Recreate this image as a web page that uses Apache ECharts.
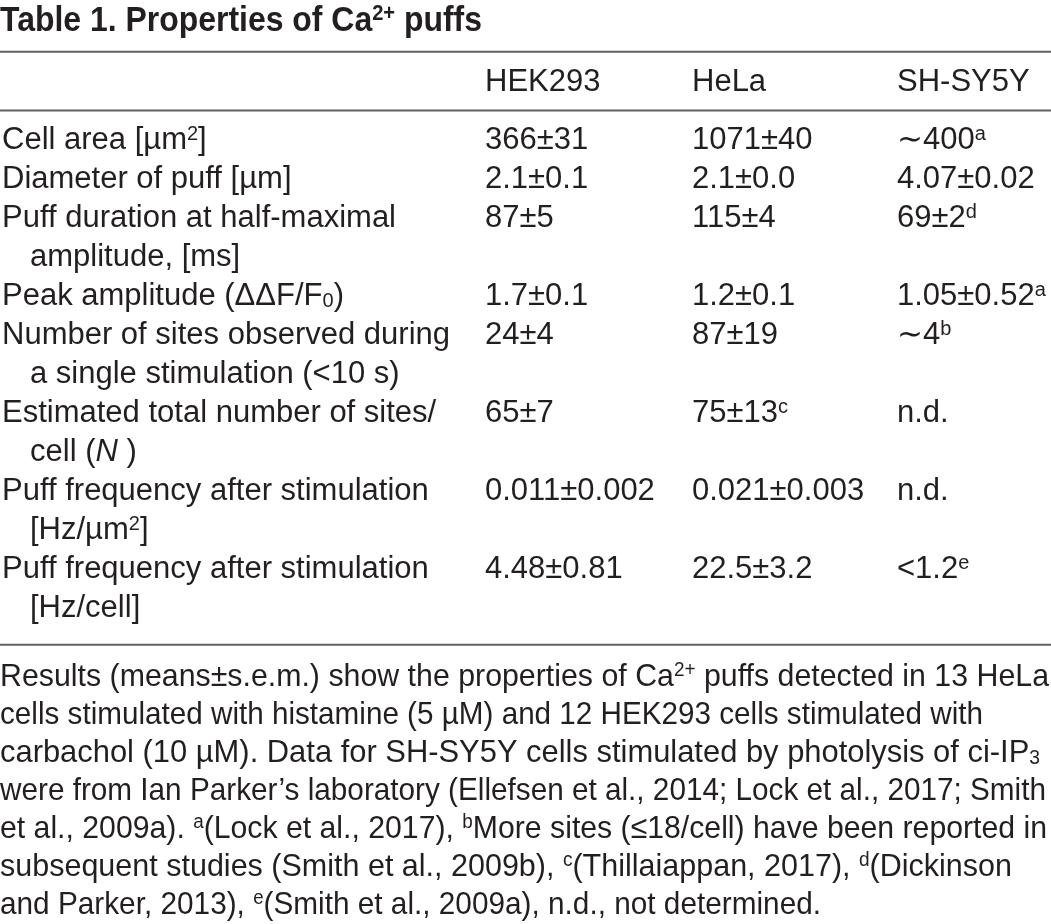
<!DOCTYPE html>
<html>
<head>
<meta charset="utf-8">
<script src="https://cdn.jsdelivr.net/npm/echarts@6/dist/echarts.min.js"></script>
<style>
html,body{margin:0;padding:0;background:#fff;}
#c{width:1051px;height:924px;}
</style>
</head>
<body>
<div id="c"></div>
<script>
// ---------- content ----------
const titleText = 'Table 1. Properties of Ca{tsup|2+} puffs';
const columnHeads = ['HEK293', 'HeLa', 'SH-SY5Y'];
const propertyLines = [
  ['Cell area [µm{sup|2}]'],
  ['Diameter of puff [µm]'],
  ['Puff duration at half-maximal', 'amplitude, [ms]'],
  ['Peak amplitude (ΔΔF/F{sub|0})'],
  ['Number of sites observed during', 'a single stimulation (<10 s)'],
  ['Estimated total number of sites/', 'cell ({it|N}{it| })'],
  ['Puff frequency after stimulation', '[Hz/µm{sup|2}]'],
  ['Puff frequency after stimulation', '[Hz/cell]']
];
const hek293 = ['366±31', '2.1±0.1', '87±5', '1.7±0.1', '24±4', '65±7', '0.011±0.002', '4.48±0.81'];
const hela = ['1071±40', '2.1±0.0', '115±4', '1.2±0.1', '87±19', '75±13{sup|c}', '0.021±0.003', '22.5±3.2'];
const shsy5y = ['∼400{sup|a}', '4.07±0.02', '69±2{sup|d}', '1.05±0.52{sup|a}', '∼4{sup|b}', 'n.d.', 'n.d.', '<1.2{sup|e}'];
const footnoteLines = [
  'Results (means±s.e.m.) show the properties of Ca{sup|2+} puffs detected in 13 HeLa',
  'cells stimulated with histamine (5 µM) and 12 HEK293 cells stimulated with',
  'carbachol (10 µM). Data for SH-SY5Y cells stimulated by photolysis of ci-IP{sub|3}',
  'were from Ian Parker’s laboratory (Ellefsen et al., 2014; Lock et al., 2017; Smith',
  'et al., 2009a). {sup|a}(Lock et al., 2017), {sup|b}More sites (≤18/cell) have been reported in',
  'subsequent studies (Smith et al., 2009b), {sup|c}(Thillaiappan, 2017), {sup|d}(Dickinson',
  'and Parker, 2013), {sup|e}(Smith et al., 2009a), n.d., not determined.'
];

// ---------- layout ----------
const W = 1051;
const FONT = '"Liberation Sans", Arial, Helvetica, sans-serif';
const INK = '#231f20';
const RULE = '#616161';
const BODY = 31;
const FOOT = 32;
const TITLE = 35;
const colX = [485, 692, 897];
const indent = 30;
const titleBase = 33;
const headBase = 93;
const row0 = 151;
const rowH = 39.0;
const footBase0 = 688;
const footH = 38.0;
const rules = [51.7, 110.5, 644.7];
const titleTarget = 482;   // full title width in the reference
const footTargets = [1049, 983, 1040, 1046, 1047, 1012, 821];

const ctx = document.createElement('canvas').getContext('2d');
function tokens(str) {
  const out = []; const re = /\{(\w+)\|([^}]*)\}/g; let last = 0, m;
  while ((m = re.exec(str))) {
    if (m.index > last) out.push([null, str.slice(last, m.index)]);
    out.push([m[1], m[2]]); last = re.lastIndex;
  }
  if (last < str.length) out.push([null, str.slice(last)]);
  return out;
}
function makeRich(size, weight) {
  const sup = Math.round(size * 0.63);
  const common = { fontFamily: FONT, fill: INK, fontWeight: weight };
  return {
    sup: Object.assign({}, common, { fontSize: sup, lineHeight: sup, verticalAlign: 'top' }),
    tsup: Object.assign({}, common, { fontSize: sup, lineHeight: sup, verticalAlign: 'top' }),
    sub: Object.assign({}, common, { fontSize: sup, lineHeight: Math.round(size * 0.33), verticalAlign: 'bottom' }),
    it: Object.assign({}, common, { fontSize: size, lineHeight: size, fontStyle: 'italic' })
  };
}
function measure(str, size, weight) {
  const rich = makeRich(size, weight);
  let w = 0;
  tokens(str).forEach(([k, t]) => {
    const s = Object.assign({ fontSize: size, fontWeight: weight }, k ? rich[k] : {});
    ctx.font = (s.fontStyle || 'normal') + ' ' + (s.fontWeight || 'normal') + ' ' + s.fontSize + 'px ' + FONT;
    w += ctx.measureText(t).width;
  });
  return w;
}
const middleOff = 0.3465; // alphabetic baseline below 'middle'
function textEl(str, x, baseline, size, weight, scaleX) {
  return {
    type: 'text',
    x: x,
    y: baseline - (size / 2 + middleOff * size),
    scaleX: scaleX || 1,
    originX: 0,
    silent: true,
    style: {
      text: str, x: 0, y: 0,
      fontSize: size, fontFamily: FONT, fontWeight: weight, fill: INK,
      lineHeight: size, align: 'left', verticalAlign: 'top',
      rich: makeRich(size, weight)
    }
  };
}

const els = [];
// title
const tScale = titleTarget / measure(titleText, TITLE, 'bold');
els.push(textEl(titleText, 0, titleBase, TITLE, 'bold', tScale));
// rules
rules.forEach(y => els.push({
  type: 'line', silent: true,
  shape: { x1: 0, y1: y, x2: W, y2: y },
  style: { stroke: RULE, lineWidth: 2 }
}));
// header
columnHeads.forEach((h, i) => els.push(textEl(h, colX[i], headBase, BODY, 'normal')));
// body
const valueCols = [hek293, hela, shsy5y];
let line = 0;
propertyLines.forEach((lines, r) => {
  const b = row0 + line * rowH;
  lines.forEach((t, j) => els.push(textEl(t, j === 0 ? 2 : indent, row0 + (line + j) * rowH, BODY, 'normal')));
  valueCols.forEach((col, c) => els.push(textEl(col[r], colX[c], b, BODY, 'normal')));
  line += lines.length;
});
// footnote (each line condensed to the width it has in the reference)
footnoteLines.forEach((t, i) => {
  const s = footTargets[i] / measure(t, FOOT, 'normal');
  els.push(textEl(t, 0, footBase0 + i * footH, FOOT, 'normal', s));
});

const chart = echarts.init(document.getElementById('c'), null, { renderer: 'canvas' });
chart.setOption({
  animation: false,
  backgroundColor: '#ffffff',
  graphic: { elements: els }
});
</script>
</body>
</html>
